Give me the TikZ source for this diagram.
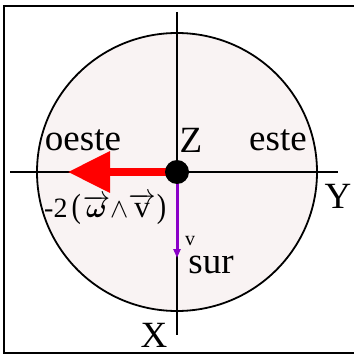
\documentclass[tikz,border=0pt]{standalone}
\usepackage{amsmath}
\usepackage{fontspec}
\setmainfont{Liberation Serif}
\usetikzlibrary{arrows.meta,positioning}
\definecolor{disc}{HTML}{F9F3F3}
\definecolor{coriolis}{HTML}{FF0000}
\definecolor{vel}{HTML}{8A00C8}
\tikzset{
  axis/.style={draw=black, line width=1.8pt},
  lbl/.style={font=\fontsize{37}{40}\selectfont, inner sep=0pt},
  small/.style={font=\fontsize{20}{24}\selectfont, inner sep=0pt},
  formula/.style={font=\fontsize{28}{32}\selectfont, inner sep=0pt},
  force/.style={-{Triangle[length=42pt,width=40pt]}, line width=7pt, coriolis},
  speed/.style={-{Triangle[length=9pt,width=7pt]}, line width=3pt, vel},
}
\begin{document}
\begin{tikzpicture}[x=1pt, y=-1pt]
    \useasboundingbox (0,0) rectangle (353,355);
    \draw[line width=1.6pt] (356,6) -- (4,6) -- (4,353) -- (356,353);
    \draw[line width=1.8pt, fill=disc] (177,172) ellipse [x radius=140, y radius=139];
    \coordinate (top) at (177,12);
    \coordinate (bot) at (177,335);
    \coordinate (lft) at (10,172);
    \coordinate (rgt) at (338,172);
    \draw[axis] (top) -- (bot);
    \draw[axis] (lft) -- (rgt);
    \node[circle, minimum size=22pt, inner sep=0pt] (o) at (177,172) {};
    \coordinate (w) at (68,172);
    \coordinate (s) at (177,258);
    \draw[force] (o.center) -- (w);
    \draw[speed] (o.center) -- (s);
    \fill[black] (o) circle [radius=12pt];
    \node[lbl] (oeste) at (83,140) {oeste};
    \node[lbl] (este) at (278,140) {este};
    \node[lbl] (z) at (191,140) {Z};
    \node[lbl] (y) at (338,196) {Y};
    \node[lbl] (x) at (154,335) {X};
    \node[lbl] (sur) at (211,265) {sur};
    \node[small] (v) at (190,241) {v};
    \node[formula, anchor=west] (cor) at (44,209) {-2\hspace{4pt}\scalebox{1}[1.2]{(}\hspace{2pt}%
      \scalebox{1.1}{$\overrightarrow{\boldsymbol{\omega}}\mathord{\wedge}\overrightarrow{\mathrm{v}}$}\hspace{1pt}\scalebox{1}[1.2]{)}};
  \end{tikzpicture}
\end{document}
